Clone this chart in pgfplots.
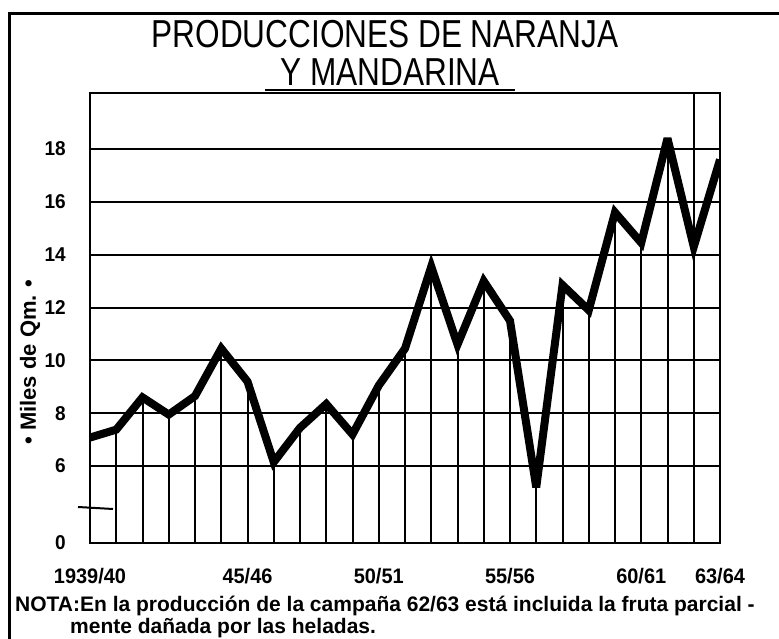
\documentclass[border=0pt]{standalone}
\usepackage{pgfplots}
\pgfplotsset{compat=1.18}
\usepackage{fontspec}
\setmainfont{Liberation Sans}
\newfontfamily\titlefont[FakeStretch=0.81]{Liberation Sans}
\newfontfamily\labfont[FakeStretch=0.95]{Liberation Sans}
\newfontfamily\notefont{Liberation Sans}
\pgfplotstableread{
x y
0 7.08
1 7.38
2 8.6
3 7.95
4 8.65
5 10.45
6 9.2
7 6.15
8 7.45
9 8.35
10 7.2
11 9.05
12 10.45
13 13.55
14 10.6
15 13.0
16 11.5
17 5.2
18 12.85
19 11.9
20 15.6
21 14.45
22 18.4
23 14.3
24 17.6
}\prod
\begin{document}
\begin{tikzpicture}[x=1pt,y=1pt]
\useasboundingbox (0,0) rectangle (779,639);
\fill[white] (0,0) rectangle (779,639);
\draw[line width=3pt] (9,0) -- (9,625) -- (779,625);
\node[font=\titlefont\fontsize{39}{39}\selectfont, anchor=base, inner sep=0pt, text depth=0pt] at (385,591) {PRODUCCIONES DE NARANJA};
\node[font=\titlefont\fontsize{39}{39}\selectfont, anchor=base, inner sep=0pt, text depth=0pt] at (390,553) {Y MANDARINA};
\draw[line width=2.5pt] (265,549) -- (515,549);
\begin{axis}[
  at={(90pt,96pt)}, anchor=south west, scale only axis,
  width=630pt, height=450pt,
  xmin=0, xmax=24, ymin=3.09, ymax=20.12,
  axis line style={line width=2.5pt},
  xtick={0,6,11,16,21,24},
  xticklabels={1939/40,45/46,50/51,55/56,60/61,63/64},
  ytick={6,8,10,12,14,16,18},
  yticklabels={6,8,10,12,14,16,18},
  extra y ticks={3.09}, extra y tick labels={0},
  extra y tick style={grid=none},
  extra x ticks={23}, extra x tick labels={},
  extra x tick style={grid=major},
  ymajorgrids,
  grid style={black, line width=2pt},
  major tick length=0pt,
  /pgf/number format/assume math mode=true,
  xticklabel style={font=\labfont\bfseries\fontsize{21}{21}\selectfont, inner sep=0pt, anchor=north, yshift=-25pt},
  yticklabel style={font=\labfont\bfseries\fontsize{20}{20}\selectfont, inner sep=0pt, anchor=east, xshift=-24pt},
]
\addplot[ycomb, black, line width=2pt, no marks] table[x=x,y=y] {\prod};
\addplot[black, line width=8pt, line join=miter, miter limit=4, no marks] table[x=x,y=y] {\prod};
\end{axis}
\draw[line width=2pt] (78,132) -- (113,130);
\node[rotate=90, font=\bfseries\fontsize{22}{22}\selectfont, inner sep=0pt] at (30,277) {• Miles de Qm. •};
\node[font=\notefont\bfseries\fontsize{21}{21}\selectfont, anchor=base west, inner sep=0pt] at (15,27) {NOTA:En la producción de la campaña 62/63 está incluida la fruta parcial -};
\node[font=\notefont\bfseries\fontsize{21}{21}\selectfont, anchor=base west, inner sep=0pt] at (70,5) {mente dañada por las heladas.};
\end{tikzpicture}
\end{document}
